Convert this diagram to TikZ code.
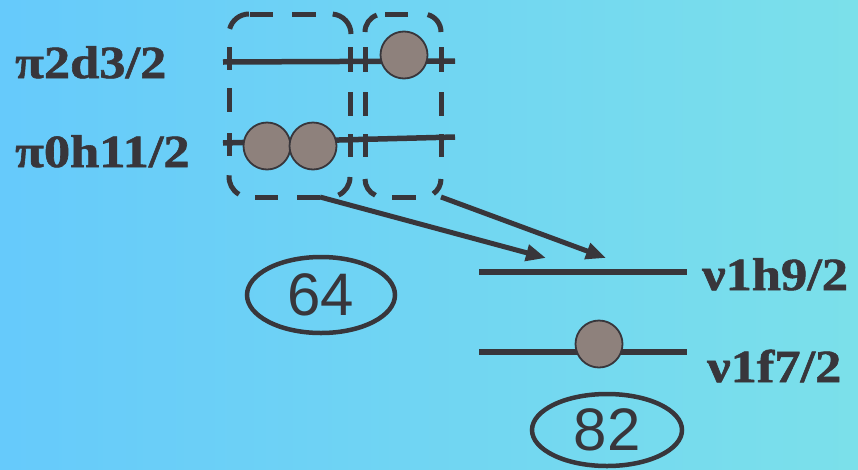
\documentclass[tikz,border=0pt]{standalone}
\usepackage{fontspec}
\usepackage{graphicx}
\setmainfont{Liberation Serif}
\newfontfamily\lblfont{Liberation Serif}[BoldFont={Liberation Serif Bold}, BoldFeatures={FakeBold=1.2}]
\newfontfamily\numfont{Liberation Sans}
\usetikzlibrary{shapes.geometric,arrows.meta}
\definecolor{ink}{HTML}{38363B}
\definecolor{ball}{HTML}{8E817C}
\definecolor{bgL}{HTML}{66CAFB}
\definecolor{bgR}{HTML}{7BE0EA}
\begin{document}
\begin{tikzpicture}[x=1pt,y=-1pt,
  level/.style={draw=ink, line width=5.5pt},
  dashseg/.style={draw=ink, line width=5pt},
  ballst/.style={circle, fill=ball, draw=ink, line width=1.8pt, minimum size=47pt, inner sep=0pt},
  lbl/.style={font=\lblfont\fontsize{46}{46}\selectfont\bfseries, text=ink, anchor=base west, inner sep=0pt},
  numst/.style={ellipse, draw=ink, line width=4.5pt, font=\numfont\fontsize{60}{60}\selectfont, text=ink, inner sep=0pt},
  arr/.style={draw=ink, line width=5pt, -{Triangle[length=20pt,width=16pt]}}]
\shade[left color=bgL, right color=bgR] (0,0) rectangle (858,469);
\useasboundingbox (0,0) rectangle (858,469);

% level line end points
\coordinate (d3L) at (223,62);
\coordinate (d3R) at (455,61);
\coordinate (h11L) at (223,143);
\coordinate (h11R) at (455,137);
\coordinate (h9L) at (479,272);
\coordinate (h9R) at (687,272);
\coordinate (f7L) at (479,352);
\coordinate (f7R) at (687,352);

\draw[level] (d3L) -- (d3R);
\draw[level] (h11L) -- (h11R);
\draw[level] (h9L) -- (h9R);
\draw[level] (f7L) -- (f7R);

% dashed box 1
\foreach \a/\b in {47/70, 88/112, 133/156} \draw[dashseg] (229,\a) -- (229,\b);
\foreach \a/\b in {47/72, 92/116, 134/157} \draw[dashseg] (350,\a) -- (350,\b);
\foreach \a/\b in {250/273, 292/316} \draw[dashseg] (\a,14) -- (\b,14);
\foreach \a/\b in {255/278, 297/320} \draw[dashseg] (\a,197) -- (\b,197);
\draw[dashseg] (249,34) ++(195:20) arc[start angle=195, end angle=270, radius=20];
\draw[dashseg] (331,34) ++(275:20) arc[start angle=275, end angle=360, radius=20];
\draw[dashseg] (330,177) ++(0:20) arc[start angle=0, end angle=65, radius=20];
\draw[dashseg] (249,177) ++(120:20) arc[start angle=120, end angle=185, radius=20];

% dashed box 2
\foreach \a/\b in {47/72, 92/116, 134/157} \draw[dashseg] (365,\a) -- (365,\b);
\foreach \a/\b in {47/72, 92/116, 134/157} \draw[dashseg] (441,\a) -- (441,\b);
\draw[dashseg] (385,14) -- (408,14);
\draw[dashseg] (392,197) -- (416,197);
\draw[dashseg] (383,32) ++(180:18) arc[start angle=180, end angle=250, radius=18];
\draw[dashseg] (423,32) ++(285:18) arc[start angle=285, end angle=360, radius=18];
\draw[dashseg] (423,179) ++(0:18) arc[start angle=0, end angle=55, radius=18];
\draw[dashseg] (383,179) ++(115:18) arc[start angle=115, end angle=180, radius=18];

% occupied states
\node[ballst] (b1) at (404,55) {};
\node[ballst] (b2) at (267,146) {};
\node[ballst] (b3) at (313,146) {};
\node[ballst] (b4) at (599,344) {};

% arrows
\coordinate (a1s) at (320,197);
\coordinate (a1e) at (546,258);
\coordinate (a2s) at (441,197);
\coordinate (a2e) at (606,258);
\draw[arr] (a1s) -- (a1e);
\draw[arr] (a2s) -- (a2e);

% labels
\node[lbl] (l1) at (15,78) {\scalebox{1.14}[1]{π2d3/2}};
\node[lbl] (l2) at (15,167) {\scalebox{1.14}[1]{π0h11/2}};
\node[lbl] (l3) at (702,290) {\scalebox{1.14}[1]{ν1h9/2}};
\node[lbl] (l4) at (707,382) {\scalebox{1.14}[1]{ν1f7/2}};

% magic numbers
\node[numst, minimum width=148pt, minimum height=76pt] (m64) at (321,295) {64};
\node[numst, minimum width=150pt, minimum height=72pt] (m82) at (607,430) {82};
\end{tikzpicture}
\end{document}
